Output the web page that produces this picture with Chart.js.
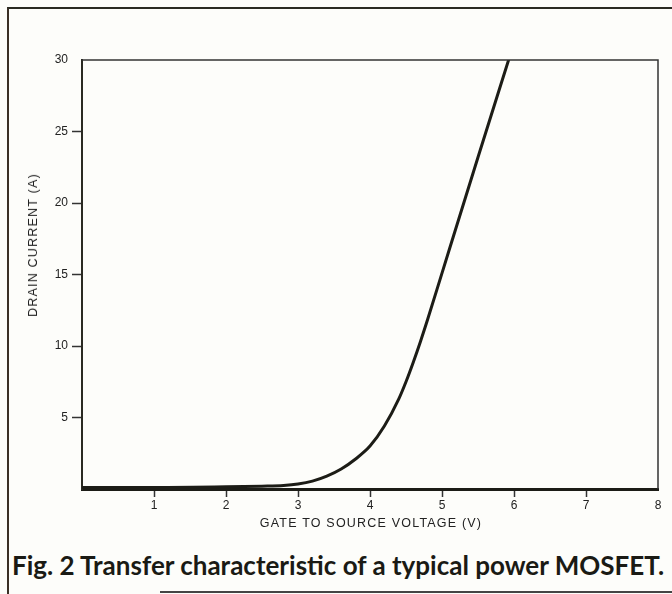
<!DOCTYPE html>
<html>
<head>
<meta charset="utf-8">
<script src="https://cdn.jsdelivr.net/npm/chart.js@4"></script>
<style>
  body { margin: 0; background: #fdfdfa; }
  #wrap { position: relative; width: 672px; height: 594px; overflow: hidden; }
  #frame { position: absolute; left: 7px; top: 7px; width: 680px; height: 600px;
           border-left: 2px solid #3a3026; border-top: 2px solid #2a2a22; }
  #botline { position: absolute; left: 160px; top: 591px; width: 520px; height: 2px; background: #444; }
  canvas { position: absolute; left: 0; top: 0; }
  .axt { position: absolute; font: 12.5px "Liberation Sans", Arial, sans-serif; color: #222;
         white-space: nowrap; letter-spacing: 1.2px; }
  #ytitle { left: 33px; top: 245px; transform: translate(-50%, -50%) rotate(-90deg); }
  #xtitle { left: 371px; top: 523px; transform: translate(-50%, -50%); }
  #caption { position: absolute; left: 12px; top: 549px; font: bold 26px Lato, "Open Sans", sans-serif;
             color: #1a1a14; white-space: nowrap; }
</style>
</head>
<body>
<div id="wrap">
  <div id="frame"></div>
  <div id="botline"></div>
  <canvas id="mosfetChart" width="672" height="540"></canvas>
  <div id="ytitle" class="axt">DRAIN CURRENT (A)</div>
  <div id="xtitle" class="axt">GATE TO SOURCE VOLTAGE (V)</div>
  <div id="caption">Fig. 2 Transfer characteristic of a typical power MOSFET.</div>
</div>
<script>
// gate-source voltage (V) and drain current (A)
const vgs = [0, 1, 2, 2.5, 2.8, 3.0, 3.2, 3.4, 3.6, 3.8, 4.0, 4.2, 4.4, 4.5, 4.6, 4.7, 4.8, 5.0, 5.5, 5.95];
const drainCurrent = [0.1, 0.1, 0.15, 0.2, 0.25, 0.35, 0.55, 0.9, 1.4, 2.1, 3.0, 4.4, 6.3, 7.5, 8.85, 10.3, 11.85, 15.1, 23.2, 30.4];
const xTicks = [1, 2, 3, 4, 5, 6, 7, 8];
const yTicks = [5, 10, 15, 20, 25, 30];

const ink = "#1c1c16";

// thin top and right edges of the plot box
const boxPlugin = {
  id: "box",
  afterDraw(chart) {
    const a = chart.chartArea;
    const ctx = chart.ctx;
    ctx.save();
    ctx.strokeStyle = "#333";
    ctx.lineWidth = 1.5;
    ctx.beginPath();
    ctx.moveTo(a.left, a.top);
    ctx.lineTo(a.right, a.top);
    ctx.lineTo(a.right, a.bottom);
    ctx.stroke();
    ctx.restore();
  },
};

const ctx = document.getElementById("mosfetChart").getContext("2d");
const mosfetChart = new Chart(ctx, {
  type: "line",
  data: {
    datasets: [
      {
        data: vgs.map((v, i) => ({ x: v, y: drainCurrent[i] })),
        borderColor: ink,
        borderWidth: 3,
        pointRadius: 0,
        cubicInterpolationMode: "monotone",
        fill: false,
      },
    ],
  },
  plugins: [boxPlugin],
  options: {
    responsive: false,
    animation: false,
    layout: { padding: { top: 60, right: 14, left: 0, bottom: 0 } },
    plugins: { legend: { display: false }, tooltip: { enabled: false } },
    scales: {
      x: {
        type: "linear",
        min: 0,
        max: 8,
        afterBuildTicks: (s) => { s.ticks = [0].concat(xTicks).map((v) => ({ value: v })); },
        afterFit: (s) => { s.height = 51; },
        ticks: {
          color: "#222",
          font: { family: "Liberation Sans", size: 12 },
          padding: 1,
          maxRotation: 0,
          callback: (v) => (v === 0 ? "" : v),
        },
        grid: {
          drawOnChartArea: false,
          tickLength: 8,
          tickWidth: 1.5,
          tickColor: (c) => (c.tick && (c.tick.value === 0 || c.tick.value === 8) ? "transparent" : "#333"),
        },
        border: { display: true, color: ink, width: 3 },
      },
      y: {
        type: "linear",
        min: 0,
        max: 30,
        afterBuildTicks: (s) => { s.ticks = [0].concat(yTicks).map((v) => ({ value: v })); },
        afterFit: (s) => { s.width = 82; },
        ticks: {
          color: "#222",
          font: { family: "Liberation Sans", size: 12 },
          padding: 4,
          callback: (v) => (v === 0 ? "" : v),
        },
        grid: {
          drawOnChartArea: false,
          tickLength: 10,
          tickWidth: 1.5,
          tickColor: (c) => (c.tick && (c.tick.value === 0 || c.tick.value === 30) ? "transparent" : "#333"),
        },
        border: { display: true, color: "#2a2a22", width: 2 },
      },
    },
  },
});
</script>
</body>
</html>
